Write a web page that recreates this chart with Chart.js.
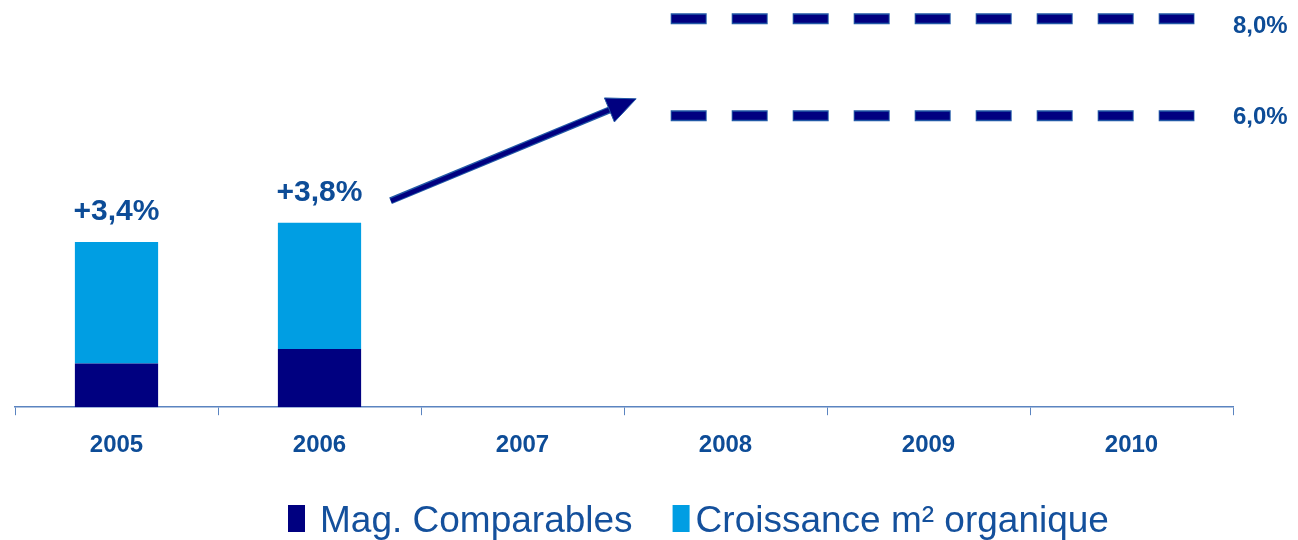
<!DOCTYPE html>
<html lang="fr">
<head>
<meta charset="UTF-8">
<title>Croissance</title>
<script src="https://cdn.jsdelivr.net/npm/chart.js"></script>
<style>
  html, body { margin: 0; padding: 0; background: #fff; }
  #wrap { width: 1298px; height: 540px; }
</style>
</head>
<body>
<div id="wrap"><canvas id="croissance" width="1298" height="540"></canvas></div>
<script>
    // données
    var annees = ['2005', '2006', '2007', '2008', '2009', '2010'];
    var magComparables = [0.9, 1.2, null, null, null, null];
    var croissanceM2 = [2.5, 2.6, null, null, null, null];
    // objectifs (lignes pointillées) et leur étendue sur l'axe des années
    var objectifs = [8.0, 6.0];
    var etendueObjectif = [2.73, 5.31];

    var BLEU_TEXTE = '#0d4c97';
    var POLICE = "'Liberation Sans', Arial, sans-serif";

    function pct(v) {
        return v.toFixed(1).replace('.', ',') + '%';
    }

    // chart.js dessine le dernier dataset en premier : trait marine d'abord, contour ensuite
    var lignesObjectif = [];
    objectifs.forEach(function (v, i) {
        var pts = etendueObjectif.map(function (x) { return { x: x, y: v }; });
        lignesObjectif.push({
            type: 'line', label: 'obj' + i, xAxisID: 'xl', stack: 'o' + i + 'b',
            data: pts, borderColor: '#000080', borderWidth: 8,
            borderDash: [34, 27], borderDashOffset: -1, borderCapStyle: 'butt', pointRadius: 0, fill: false
        });
        lignesObjectif.push({
            type: 'line', label: 'obj' + i, xAxisID: 'xl', stack: 'o' + i + 'a',
            data: pts, borderColor: '#2259a6', borderWidth: 11,
            borderDash: [36, 25], borderCapStyle: 'butt', pointRadius: 0, fill: false
        });
    });

    // étiquettes, flèche et légende
    var decor = {
        id: 'decor',
        afterDatasetsDraw: function (chart) {
            var ctx = chart.ctx;
            var xs = chart.scales.x, xl = chart.scales.xl, ys = chart.scales.y;
            ctx.save();

            // total au-dessus de chaque barre
            ctx.fillStyle = BLEU_TEXTE;
            ctx.font = 'bold 30px ' + POLICE;
            ctx.textAlign = 'center';
            ctx.textBaseline = 'alphabetic';
            annees.forEach(function (a, i) {
                if (magComparables[i] == null) return;
                var total = magComparables[i] + croissanceM2[i];
                ctx.fillText('+' + pct(total), xs.getPixelForValue(i), ys.getPixelForValue(total) - 22);
            });

            // valeurs des objectifs
            ctx.font = 'bold 24px ' + POLICE;
            ctx.textAlign = 'left';
            ctx.textBaseline = 'middle';
            objectifs.forEach(function (v, i) {
                ctx.fillText(pct(v), chart.chartArea.right, ys.getPixelForValue(v) + (i === 0 ? 8 : 2));
            });

            // flèche
            var x0 = xl.getPixelForValue(1.35), y0 = ys.getPixelForValue(4.25);
            var x1 = xl.getPixelForValue(2.56), y1 = ys.getPixelForValue(6.35);
            var ang = Math.atan2(y1 - y0, x1 - x0);
            var lg = 29, lh = 13;
            var bx = x1 - lg * Math.cos(ang), by = y1 - lg * Math.sin(ang);
            var ex = bx + 2 * Math.cos(ang), ey = by + 2 * Math.sin(ang);
            ctx.lineCap = 'butt';
            ctx.strokeStyle = '#2259a6';
            ctx.lineWidth = 7;
            ctx.beginPath(); ctx.moveTo(x0, y0); ctx.lineTo(ex, ey); ctx.stroke();
            ctx.strokeStyle = '#000080';
            ctx.lineWidth = 4.5;
            ctx.beginPath(); ctx.moveTo(x0 + 0.5, y0); ctx.lineTo(ex, ey); ctx.stroke();
            ctx.beginPath();
            ctx.moveTo(x1, y1);
            ctx.lineTo(bx + lh * Math.sin(ang), by - lh * Math.cos(ang));
            ctx.lineTo(bx - lh * Math.sin(ang), by + lh * Math.cos(ang));
            ctx.closePath();
            ctx.fillStyle = '#000080';
            ctx.fill();
            ctx.lineWidth = 1;
            ctx.strokeStyle = '#2259a6';
            ctx.stroke();

            // légende
            ctx.font = '37px ' + POLICE;
            ctx.textAlign = 'left';
            ctx.textBaseline = 'alphabetic';
            var items = chart.data.datasets.filter(function (d) { return d.type !== 'line'; });
            var x = 288;
            items.forEach(function (d, i) {
                ctx.fillStyle = d.backgroundColor;
                ctx.fillRect(x, 505, 17, 27);
                var tx = x + (i === 0 ? 32 : 23);
                ctx.fillStyle = '#14509c';
                ctx.fillText(d.label, tx, 532);
                x = tx + ctx.measureText(d.label).width + 40;
            });

            ctx.restore();
        }
    };

    new Chart(document.getElementById('croissance'), {
        type: 'bar',
        data: {
            labels: annees,
            datasets: [{
                label: 'Mag. Comparables',
                data: magComparables,
                backgroundColor: '#000080',
                stack: 'total',
                grouped: false,
                categoryPercentage: 1,
                barPercentage: 0.41
            }, {
                label: 'Croissance m² organique',
                data: croissanceM2,
                backgroundColor: '#009ee3',
                stack: 'total',
                grouped: false,
                categoryPercentage: 1,
                barPercentage: 0.41
            }].concat(lignesObjectif)
        },
        options: {
            responsive: false,
            animation: false,
            layout: { padding: { left: 15, right: 65, top: 9, bottom: 64 } },
            plugins: {
                legend: { display: false },
                tooltip: { enabled: false }
            },
            scales: {
                x: {
                    stacked: true,
                    border: { color: '#5b84c0', width: 1.5 },
                    grid: { drawOnChartArea: false, color: '#5b84c0', tickLength: 8, offset: true },
                    ticks: {
                        color: BLEU_TEXTE,
                        padding: 16,
                        font: { family: POLICE, size: 24, weight: 'bold' }
                    }
                },
                xl: { type: 'linear', display: false, offset: false, grid: { offset: false }, min: -0.5, max: 5.5 },
                y: { stacked: true, display: false, min: 0, max: 8.2 }
            }
        },
        plugins: [decor]
    });
</script>
</body>
</html>
